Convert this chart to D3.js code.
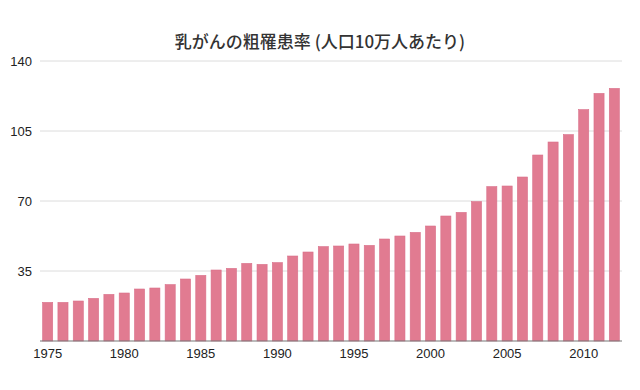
<!DOCTYPE html>
<html>
<head>
<meta charset="utf-8">
<script src="https://cdn.jsdelivr.net/npm/d3@7"></script>
<style>
  body { margin: 0; background: #fff; }
  text { font-family: "Liberation Sans", "Noto Sans CJK JP", sans-serif; }
  .title { font-family: "Noto Sans CJK JP", sans-serif; }
</style>
</head>
<body>
<div id="chart"></div>
<script>
// data
const years = d3.range(1975, 2013);
const rates = [19.3, 19.3, 20, 21.3, 23.3, 24, 26, 26.5, 28.2, 31,
               32.8, 35.5, 36.3, 38.8, 38.3, 39.2, 42.5, 44.5, 47.2, 47.5,
               48.5, 47.8, 51, 52.5, 54.3, 57.5, 62.5, 64.3, 69.7, 77.2,
               77.5, 82, 93, 99.5, 103.2, 115.7, 123.8, 126.3];
const yTicks = [35, 70, 105, 140];
const xLabels = [1975, 1980, 1985, 1990, 1995, 2000, 2005, 2010];

const width = 640, height = 390;
const margins = { top: 61, bottom: 49, left: 40, right: 18 };

const svg = d3.select("#chart")
  .append("svg")
  .attr("width", width)
  .attr("height", height);

const data = years.map((y, i) => ({ year: y, val: rates[i] }));

const xScale = d3.scaleBand()
  .domain(years)
  .range([margins.left, width - margins.right])
  .paddingInner(0.34)
  .paddingOuter(0.17);

const yScale = d3.scaleLinear()
  .domain([0, 140])
  .range([height - margins.bottom, margins.top]);

// gridlines
svg.append("g")
  .selectAll("line")
  .data(yTicks)
  .join("line")
  .attr("x1", margins.left)
  .attr("x2", width - margins.right)
  .attr("y1", d => yScale(d))
  .attr("y2", d => yScale(d))
  .attr("stroke", "#dcdcdc")
  .attr("stroke-width", 1);

// y labels
svg.append("g")
  .selectAll("text")
  .data(yTicks)
  .join("text")
  .attr("x", 32)
  .attr("y", d => yScale(d))
  .attr("dy", "0.35em")
  .attr("text-anchor", "end")
  .style("font-size", "13px")
  .style("fill", "#222")
  .text(d => d);

// bars
svg.append("g")
  .selectAll("rect")
  .data(data)
  .join("rect")
  .attr("x", d => xScale(d.year))
  .attr("y", d => yScale(d.val))
  .attr("width", xScale.bandwidth())
  .attr("height", d => yScale(0) - yScale(d.val))
  .attr("fill", "#e17b91")
  .attr("stroke", "#d9708a")
  .attr("stroke-width", 0.6);

// baseline
svg.append("line")
  .attr("x1", margins.left)
  .attr("x2", width - margins.right)
  .attr("y1", yScale(0))
  .attr("y2", yScale(0))
  .attr("stroke", "#777")
  .attr("stroke-width", 1.2);

// x labels
svg.append("g")
  .selectAll("text")
  .data(xLabels)
  .join("text")
  .attr("x", d => xScale(d) + xScale.bandwidth() / 2)
  .attr("y", yScale(0) + 12)
  .attr("dy", "0.35em")
  .attr("text-anchor", "middle")
  .style("font-size", "13px")
  .style("fill", "#222")
  .text(d => d);

// title
svg.append("text")
  .attr("class", "title")
  .attr("x", 320)
  .attr("y", 42)
  .attr("dy", "0.35em")
  .attr("text-anchor", "middle")
  .style("font-size", "17px")
  .style("font-weight", 500)
  .style("fill", "#333")
  .text("乳がんの粗罹患率 (人口10万人あたり)");
</script>
</body>
</html>
